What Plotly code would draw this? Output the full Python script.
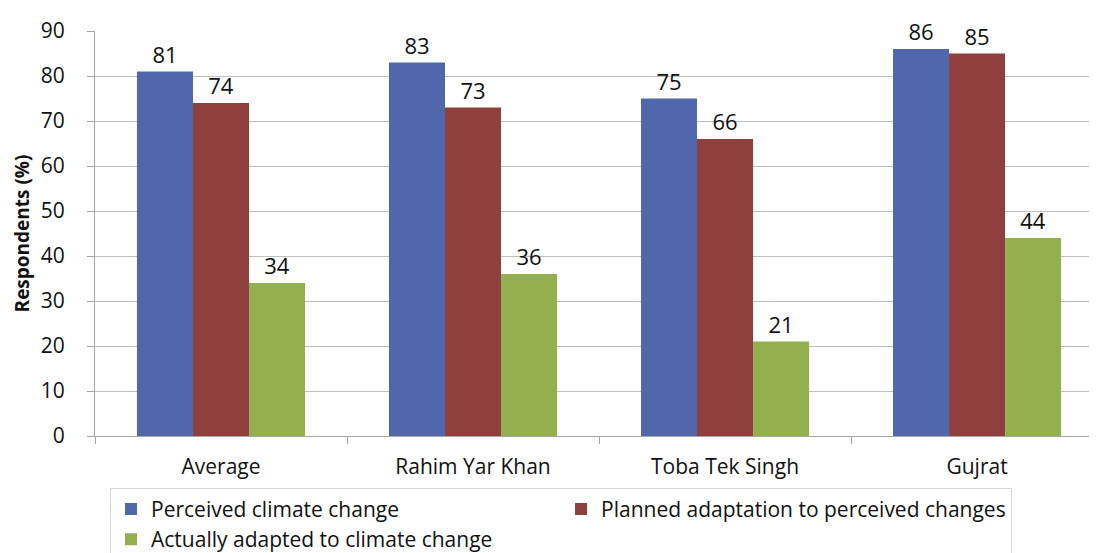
import plotly.graph_objects as go

categories = ["Average", "Rahim Yar Khan", "Toba Tek Singh", "Gujrat"]
perceived = [81, 83, 75, 86]
planned = [74, 73, 66, 85]
adapted = [34, 36, 21, 44]

series = [
    ("Perceived climate change", perceived, "#5067AC"),
    ("Planned adaptation to perceived changes", planned, "#8F3F3E"),
    ("Actually adapted to climate change", adapted, "#94B04E"),
]

FONT = "Open Sans, Noto Sans, sans-serif"

fig = go.Figure()
for name, vals, color in series:
    fig.add_trace(go.Bar(
        x=categories, y=vals, name=name,
        marker=dict(color=color, line=dict(width=0)),
        text=[str(v) for v in vals], textposition="outside",
        textfont=dict(size=22, color="#111111", family=FONT),
        cliponaxis=False,
    ))

# page body has an 8px margin; figure is taller than the window so the
# legend's second row gets cut off at the bottom like the original
fig.update_layout(
    width=1097, height=570,
    barmode="group", bargap=0.333, bargroupgap=0,
    margin=dict(l=87, r=8, t=14, b=142),
    paper_bgcolor="white", plot_bgcolor="white",
    font=dict(family=FONT, size=21, color="#111111"),
    showlegend=True,
    legend=dict(
        orientation="h", x=0.015, xref="paper", y=-0.128, yanchor="top",
        entrywidth=405, entrywidthmode="pixels",
        font=dict(size=21, family=FONT, color="#111111"),
        bordercolor="#d9d9d9", borderwidth=1,
        traceorder="normal",
    ),
)
fig.update_xaxes(
    range=[-0.5, 3.476], showgrid=False,
    showline=True, linecolor="#a6a6a6", linewidth=1,
    ticks="outside", tickson="boundaries", ticklen=7, tickcolor="#a6a6a6",
    ticklabelstandoff=12,
    tickfont=dict(size=21, family=FONT, color="#111111"),
)
fig.update_yaxes(
    range=[0, 90], dtick=10,
    showgrid=True, gridcolor="#bfbfbf", gridwidth=1,
    showline=True, linecolor="#a6a6a6", linewidth=1,
    ticks="outside", ticklen=7, tickcolor="#a6a6a6",
    ticklabelstandoff=18, ticklabeloverflow="allow",
    tickfont=dict(size=21, family=FONT, color="#111111"),
    title=dict(text="<b>Respondents (%)</b>", font=dict(size=19, family=FONT, color="#111111"), standoff=6),
    zeroline=False,
)

fig.write_html("out.html")
